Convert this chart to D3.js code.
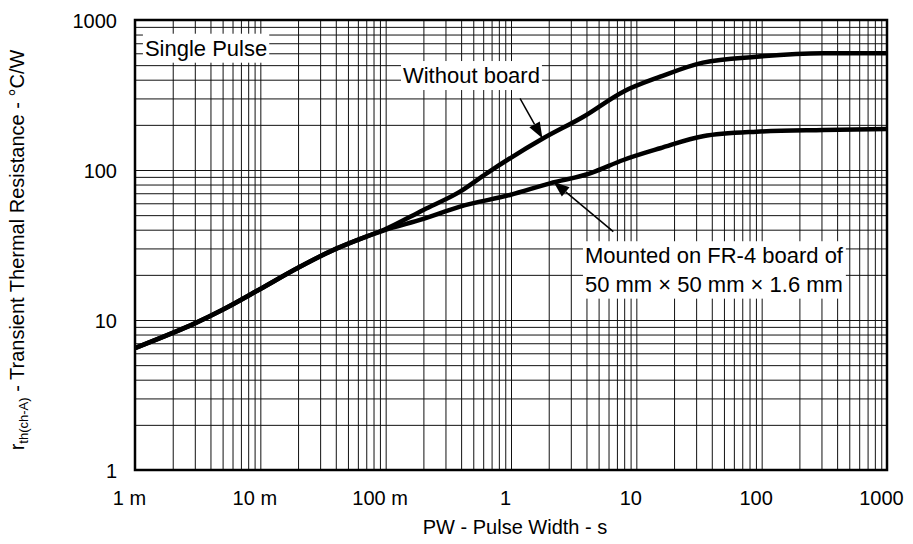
<!DOCTYPE html>
<html>
<head>
<meta charset="utf-8">
<script src="https://cdn.jsdelivr.net/npm/d3@7"></script>
<style>
  body { margin: 0; background: #fff; }
  svg { font-family: "Liberation Sans", Arial, sans-serif; }
</style>
</head>
<body>
<svg id="chart" width="913" height="544"></svg>
<script>
// Pulse width (s) and thermal resistance (°C/W)
var withoutBoardX = [0.001, 0.002, 0.003, 0.005, 0.01, 0.02, 0.04, 0.07, 0.096, 0.2, 0.392, 0.64, 1.81, 3.78, 7.87, 15.5, 34, 91, 310, 1000];
var withoutBoardY = [6.5, 8.2, 9.5, 11.7, 16.1, 22.3, 29.8, 36, 39.8, 54.2, 71.7, 95, 162.7, 226.6, 333, 419, 520, 569, 600, 600];

var mountedX = [0.001, 0.002, 0.003, 0.005, 0.01, 0.02, 0.04, 0.07, 0.096, 0.2, 0.392, 0.98, 2.05, 4.27, 7.87, 15.5, 34, 91, 310, 1000];
var mountedY = [6.5, 8.2, 9.5, 11.7, 16.1, 22.3, 29.8, 36, 39.5, 47.2, 57, 68.1, 81.5, 95, 116.6, 139.6, 168, 180, 185, 188];

var xTicks = [0.001, 0.01, 0.1, 1, 10, 100, 1000];
var xTickLabels = ["1 m", "10 m", "100 m", "1", "10", "100", "1000"];
var yTicks = [1, 10, 100, 1000];
var yTickLabels = ["1", "10", "100", "1000"];

// Annotations in data units: [x, y]
var singlePulseAt = [0.0012, 578];
var withoutLabelAt = [0.1374, 380];
var withoutArrow = [[1.18, 300], [1.78, 162.6]];
var mountedLabelAt = [3.89, 23.9];
var mountedLines = ["Mounted on FR-4 board of", "50 mm \u00d7 50 mm \u00d7 1.6 mm"];
var mountedArrow = [[6.55, 38.8], [2.18, 83.6]];

var margin = { left: 135, top: 20 };
var w = 752;
var h = 450;

var svg = d3.select("#chart");
var g = svg.append("g").attr("transform", "translate(" + margin.left + "," + margin.top + ")");

var x = d3.scaleLog().domain([0.001, 1000]).range([0, w]);
var y = d3.scaleLog().domain([1, 1000]).range([h, 0]);

// Log grid: 1..9 in every decade
var xGrid = [];
for (var e = -3; e < 3; e++) {
  for (var k = 1; k < 10; k++) xGrid.push(k * Math.pow(10, e));
}
var yGrid = [];
for (var e2 = 0; e2 < 3; e2++) {
  for (var k2 = 1; k2 < 10; k2++) yGrid.push(k2 * Math.pow(10, e2));
}

g.append("g")
  .call(d3.axisBottom(x).tickValues(xGrid).tickSize(-h).tickFormat(""))
  .attr("transform", "translate(0," + h + ")")
  .call(function(a) {
    a.select(".domain").remove();
    a.selectAll("line").attr("stroke", "#111").attr("stroke-width", 1);
  });

g.append("g")
  .call(d3.axisLeft(y).tickValues(yGrid).tickSize(-w).tickFormat(""))
  .call(function(a) {
    a.select(".domain").remove();
    a.selectAll("line").attr("stroke", "#111").attr("stroke-width", 1);
  });

// Tick labels
g.append("g")
  .attr("transform", "translate(0," + h + ")")
  .call(d3.axisBottom(x).tickValues(xTicks).tickSize(0).tickPadding(0)
    .tickFormat(function(d, i) { return xTickLabels[i]; }))
  .call(function(a) {
    a.select(".domain").remove();
    a.selectAll("text")
      .attr("font-family", "Liberation Sans, Arial, sans-serif")
      .attr("font-size", 20)
      .attr("fill", "#000")
      .attr("dy", null)
      .attr("y", 35)
      .attr("dx", -6);
  });

g.append("g")
  .call(d3.axisLeft(y).tickValues(yTicks).tickSize(0).tickPadding(18)
    .tickFormat(function(d, i) { return yTickLabels[i]; }))
  .call(function(a) {
    a.select(".domain").remove();
    a.selectAll("text")
      .attr("font-family", "Liberation Sans, Arial, sans-serif")
      .attr("font-size", 20)
      .attr("fill", "#000")
      .attr("dy", "0.36em");
  });

// Curves
var line = d3.line()
  .x(function(d) { return x(d[0]); })
  .y(function(d) { return y(d[1]); })
  .curve(d3.curveMonotoneX);

[[withoutBoardX, withoutBoardY], [mountedX, mountedY]].forEach(function(s) {
  g.append("path")
    .datum(d3.zip(s[0], s[1]))
    .attr("d", line)
    .attr("fill", "none")
    .attr("stroke", "#000")
    .attr("stroke-width", 4.5)
    .attr("stroke-linejoin", "round");
});

// Labels with white boxes behind
function boxedLabel(at, lines) {
  var lg = g.append("g");
  var t = lg.append("text")
    .attr("x", x(at[0]))
    .attr("y", y(at[1]))
    .attr("font-size", 22)
    .attr("fill", "#000");
  lines.forEach(function(s, i) {
    t.append("tspan").attr("x", x(at[0])).attr("dy", i === 0 ? 0 : 28.4).text(s);
  });
  var bb = t.node().getBBox();
  lg.insert("rect", "text")
    .attr("x", bb.x - 2)
    .attr("y", bb.y - 2)
    .attr("width", bb.width + 4)
    .attr("height", bb.height + 4)
    .attr("fill", "#fff");
}

boxedLabel(singlePulseAt, ["Single Pulse"]);
boxedLabel(withoutLabelAt, ["Without board"]);
boxedLabel(mountedLabelAt, mountedLines);

// Arrows
function arrow(pts) {
  var x0 = x(pts[0][0]), y0 = y(pts[0][1]);
  var x1 = x(pts[1][0]), y1 = y(pts[1][1]);
  var ang = Math.atan2(y1 - y0, x1 - x0);
  var len = 16, half = 6;
  var bx = x1 - len * Math.cos(ang), by = y1 - len * Math.sin(ang);
  g.append("line")
    .attr("x1", x0).attr("y1", y0)
    .attr("x2", bx).attr("y2", by)
    .attr("stroke", "#000").attr("stroke-width", 1.5);
  var px = -Math.sin(ang) * half, py = Math.cos(ang) * half;
  g.append("path")
    .attr("d", "M" + x1 + "," + y1 + "L" + (bx + px) + "," + (by + py) + "L" + (bx - px) + "," + (by - py) + "Z")
    .attr("fill", "#000");
}
arrow(withoutArrow);
arrow(mountedArrow);

// Frame
g.append("rect")
  .attr("width", w).attr("height", h)
  .attr("fill", "none").attr("stroke", "#000").attr("stroke-width", 2.5);

// Axis titles
svg.append("text")
  .attr("x", margin.left + w / 2 + 4)
  .attr("y", 534)
  .attr("text-anchor", "middle")
  .attr("font-size", 20)
  .text("PW - Pulse Width - s");

var yt = svg.append("text")
  .attr("transform", "translate(24,250) rotate(-90)")
  .attr("text-anchor", "middle")
  .attr("font-size", 20);
yt.append("tspan").text("r");
yt.append("tspan").attr("font-size", 13).attr("dy", 4).text("th(ch-A)");
yt.append("tspan").attr("dy", -4).text(" - Transient Thermal Resistance - \u00b0C/W");
</script>
</body>
</html>
